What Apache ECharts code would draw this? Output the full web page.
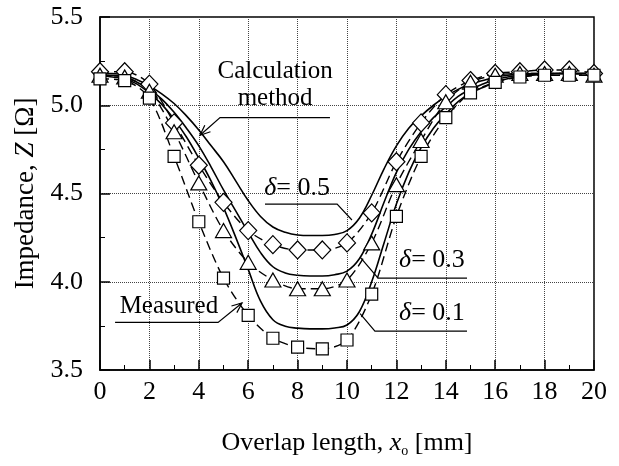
<!DOCTYPE html>
<html>
<head>
<meta charset="utf-8">
<script src="https://cdn.jsdelivr.net/npm/echarts@6/dist/echarts.min.js"></script>
<style>
html,body{margin:0;padding:0;background:#fff}
#chart{width:619px;height:466px}
</style>
</head>
<body>
<div id="chart"></div>
<script>
// calculation curves (solid), sampled along calcX
const calcX = [0,0.5,1,1.5,2,2.5,3,3.5,4,4.5,5,5.5,6,6.5,7,7.5,8,8.5,9,9.5,10,10.5,11,11.5,12,12.5,13,13.5,14,14.5,15,15.5,16,16.5,17,17.5,18,18.5,19,19.5,20];
const calc05 = [5.18,5.18,5.17,5.145,5.11,5.065,5.01,4.94,4.86,4.77,4.68,4.57,4.46,4.37,4.31,4.28,4.265,4.262,4.262,4.268,4.29,4.36,4.49,4.64,4.77,4.87,4.94,5.00,5.05,5.09,5.12,5.14,5.16,5.17,5.175,5.18,5.18,5.18,5.18,5.18,5.18];
const calc03 = [5.17,5.17,5.16,5.13,5.09,5.035,4.96,4.87,4.77,4.65,4.52,4.40,4.28,4.165,4.085,4.05,4.037,4.033,4.033,4.04,4.06,4.13,4.27,4.45,4.62,4.75,4.85,4.93,4.99,5.05,5.09,5.12,5.145,5.16,5.17,5.175,5.18,5.18,5.18,5.18,5.18];
const calc01 = [5.17,5.16,5.15,5.12,5.07,5.005,4.92,4.82,4.70,4.57,4.42,4.25,4.07,3.89,3.785,3.748,3.737,3.733,3.733,3.738,3.755,3.83,4.00,4.22,4.44,4.62,4.76,4.87,4.95,5.02,5.07,5.10,5.13,5.15,5.16,5.17,5.175,5.18,5.18,5.18,5.18];

// measured points (dashed + markers)
const measX = [0,1,2,3,4,5,6,7,8,9,10,11,12,13,14,15,16,17,18,19,20];
const meas05 = [5.19,5.19,5.12,4.90,4.66,4.45,4.29,4.21,4.18,4.18,4.22,4.39,4.68,4.90,5.06,5.14,5.18,5.19,5.20,5.20,5.18];
const meas03 = [5.17,5.16,5.08,4.85,4.56,4.29,4.11,4.01,3.96,3.96,4.01,4.22,4.55,4.80,5.02,5.13,5.17,5.18,5.18,5.18,5.17];
const meas01 = [5.15,5.14,5.04,4.71,4.34,4.02,3.81,3.68,3.63,3.62,3.67,3.93,4.37,4.71,4.93,5.07,5.13,5.16,5.17,5.17,5.17];

// annotation leaders in data coords
const calcLeader = [[9.31,4.93],[4.86,4.93],[4.05,4.83]];
const measLeader = [[0.61,3.77],[4.78,3.77],[5.75,3.88]];
const d5Leader = [[6.68,4.44],[9.60,4.44],[10.2,4.35]];
const d3Leader = [[14.86,4.02],[11.26,4.02],[10.53,4.14]];
const d1Leader = [[14.86,3.72],[11.13,3.72],[10.53,3.82]];

const FONT = '"Liberation Serif","Times New Roman",serif';

const pairs=(xs,ys)=>xs.map((x,i)=>[x,ys[i]]);

const chartDom=document.getElementById('chart');
const myChart=echarts.init(chartDom);

const calcSeries=(d)=>({
    type:'line',
    data:pairs(calcX,d),
    smooth:0.4,
    symbol:'none',
    lineStyle:{color:'#000',width:1.6},
    z:3
});
const measSeries=(d,sym,size)=>({
    type:'line',
    data:pairs(measX,d),
    smooth:0.3,
    symbol:sym,
    symbolSize:size,
    itemStyle:{color:'#fff',borderColor:'#000',borderWidth:1.2},
    lineStyle:{color:'#000',width:1.4,type:[9,5]},
    z:4
});

const option={
    animation:false,
    grid:{
        left:100,
        right:25,
        top:17,
        bottom:96,
        show:true,
        borderColor:'#000',
        borderWidth:1.5
    },
    xAxis:{
        type:'value',
        min:0,
        max:20,
        interval:2,
        name:'{n|Overlap length, }{i|x}{s|o}{n| [mm]}',
        nameLocation:'middle',
        nameGap:58,
        nameTextStyle:{
            rich:{
                n:{fontFamily:FONT,fontSize:26,color:'#000'},
                i:{fontFamily:FONT,fontSize:26,fontStyle:'italic',color:'#000'},
                s:{fontFamily:FONT,fontSize:14,color:'#000',padding:[16,0,0,0]}
            }
        },
        axisLine:{lineStyle:{color:'#000',width:1.5}},
        axisTick:{inside:true,length:10,lineStyle:{color:'#000',width:1.5}},
        minorTick:{show:true,splitNumber:2,length:5,lineStyle:{color:'#000',width:1}},
        axisLabel:{fontFamily:FONT,fontSize:26,color:'#000',margin:9},
        splitLine:{show:true,lineStyle:{color:'#444',type:'dotted',width:1}}
    },
    yAxis:{
        type:'value',
        min:3.5,
        max:5.5,
        interval:0.5,
        name:'{n|Impedance, }{i|Z}{n| [Ω]}',
        nameLocation:'middle',
        nameGap:60,
        nameTextStyle:{
            rich:{
                n:{fontFamily:FONT,fontSize:27,color:'#000'},
                i:{fontFamily:FONT,fontSize:27,fontStyle:'italic',color:'#000'}
            }
        },
        axisLine:{lineStyle:{color:'#000',width:1.5}},
        axisTick:{inside:true,length:10,lineStyle:{color:'#000',width:1.5}},
        minorTick:{show:true,splitNumber:2,length:5,lineStyle:{color:'#000',width:1}},
        axisLabel:{fontFamily:FONT,fontSize:26,color:'#000',margin:17,formatter:v=>v.toFixed(1)},
        splitLine:{show:true,lineStyle:{color:'#444',type:'dotted',width:1}}
    },
    series:[
        calcSeries(calc05),
        calcSeries(calc03),
        calcSeries(calc01),
        measSeries(meas05,'diamond',[17,18]),
        measSeries(meas03,'triangle',[16,14]),
        measSeries(meas01,'rect',[12,12])
    ]
};
myChart.setOption(option);

// annotations: leaders and labels, placed through the chart's own scales
const toPx=p=>myChart.convertToPixel({gridIndex:0},p);
const leader=(pts,arrow)=>{
    const px=pts.map(toPx);
    const els=[{type:'polyline',shape:{points:px},style:{stroke:'#000',lineWidth:1.2,fill:null},z:10}];
    if(arrow){
        const a=px[px.length-2], b=px[px.length-1];
        const ang=Math.atan2(b[1]-a[1],b[0]-a[0]);
        const L=11, w=0.4;
        els.push({type:'polyline',shape:{points:[
            [b[0]-L*Math.cos(ang-w),b[1]-L*Math.sin(ang-w)],
            b,
            [b[0]-L*Math.cos(ang+w),b[1]-L*Math.sin(ang+w)]
        ]},style:{stroke:'#000',lineWidth:1.2,fill:null},z:10});
    }
    return els;
};
const label=(p,text,rich)=>{
    const q=toPx(p);
    return {type:'text',x:q[0],y:q[1],z:11,style:{
        text:text,align:'center',verticalAlign:'middle',
        font:'25px '+FONT,fill:'#000',rich:rich||{}
    }};
};
const deltaRich={
    d:{fontFamily:FONT,fontSize:26,fontStyle:'italic',fill:'#000'},
    n:{fontFamily:FONT,fontSize:26,fill:'#000'}
};
myChart.setOption({graphic:[
    ...leader(calcLeader,true),
    ...leader(measLeader,true),
    ...leader(d5Leader,false),
    ...leader(d3Leader,false),
    ...leader(d1Leader,false),
    label([7.09,5.19],'Calculation'),
    label([7.09,5.04],'method'),
    label([2.79,3.86],'Measured'),
    label([7.98,4.53],'{d|δ}{n|= 0.5}',deltaRich),
    label([13.44,4.12],'{d|δ}{n|= 0.3}',deltaRich),
    label([13.44,3.82],'{d|δ}{n|= 0.1}',deltaRich)
]});
</script>
</body>
</html>
